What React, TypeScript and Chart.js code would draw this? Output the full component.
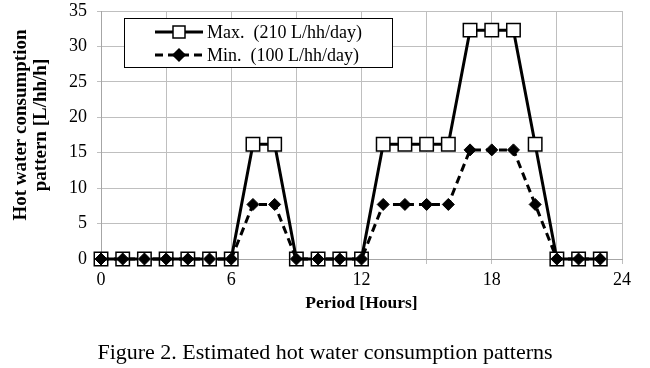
import React, { useEffect, useRef } from "react";
import { Chart, registerables } from "chart.js";

Chart.register(...registerables);

const hours = [0, 1, 2, 3, 4, 5, 6, 7, 8, 9, 10, 11, 12, 13, 14, 15, 16, 17, 18, 19, 20, 21, 22, 23];
const maxValues = [0, 0, 0, 0, 0, 0, 0, 16.2, 16.2, 0, 0, 0, 0, 16.2, 16.2, 16.2, 16.2, 32.3, 32.3, 32.3, 16.2, 0, 0, 0];
const minValues = [0, 0, 0, 0, 0, 0, 0, 7.7, 7.7, 0, 0, 0, 0, 7.7, 7.7, 7.7, 7.7, 15.4, 15.4, 15.4, 7.7, 0, 0, 0];
const seriesLabels = ["Max.  (210 L/hh/day)", "Min.  (100 L/hh/day)"];
const xTitle = "Period [Hours]";
const yTitle = ["Hot water consumption", "pattern [L/hh/h]"];
const caption = "Figure 2. Estimated hot water consumption patterns";

const SERIF = "'Liberation Serif', 'Times New Roman', serif";

const yTitlePlugin = {
  id: "yTitle",
  afterDraw(chart: any) {
    const ctx = chart.ctx;
    ctx.save();
    ctx.fillStyle = "#000";
    ctx.font = `bold 19px ${SERIF}`;
    ctx.textAlign = "center";
    ctx.textBaseline = "middle";
    const xs = [21, 41];
    yTitle.forEach((t, i) => {
      ctx.save();
      ctx.translate(xs[i], 125);
      ctx.rotate(-Math.PI / 2);
      ctx.fillText(t, 0, 0);
      ctx.restore();
    });
    ctx.restore();
  },
};

const legendPlugin = {
  id: "boxLegend",
  afterDatasetsDraw(chart: any) {
    const ctx = chart.ctx;
    const bx = 124, by = 18, bw = 268, bh = 49;
    ctx.save();
    ctx.fillStyle = "#fff";
    ctx.fillRect(bx, by, bw, bh);
    ctx.strokeStyle = "#000";
    ctx.lineWidth = 1;
    ctx.strokeRect(bx + 0.5, by + 0.5, bw, bh);
    const rows = [
      { y: 32, ds: chart.data.datasets[0] },
      { y: 55, ds: chart.data.datasets[1] },
    ];
    rows.forEach((r) => {
      const ds = r.ds;
      ctx.beginPath();
      ctx.setLineDash(ds.borderDash || []);
      ctx.lineWidth = ds.borderWidth;
      ctx.strokeStyle = ds.borderColor;
      ctx.moveTo(155, r.y);
      ctx.lineTo(203, r.y);
      ctx.stroke();
      ctx.setLineDash([]);
      ctx.lineWidth = 1.5;
      ctx.fillStyle = ds.pointBackgroundColor;
      ctx.strokeStyle = ds.pointBorderColor;
      ctx.beginPath();
      if (ds.pointStyle === "rect") {
        const s = 6;
        ctx.rect(179 - s, r.y - s, 2 * s, 2 * s);
      } else {
        const s = 6;
        ctx.moveTo(179 - s, r.y);
        ctx.lineTo(179, r.y - s);
        ctx.lineTo(179 + s, r.y);
        ctx.lineTo(179, r.y + s);
        ctx.closePath();
      }
      ctx.fill();
      ctx.stroke();
      ctx.fillStyle = "#000";
      ctx.font = `18px ${SERIF}`;
      ctx.textBaseline = "middle";
      ctx.textAlign = "left";
      ctx.fillText(ds.label, 207, r.y + 1);
    });
    ctx.restore();
  },
};

export default function App() {
  const ref = useRef<HTMLCanvasElement>(null);
  useEffect(() => {
    const chart = new Chart(ref.current as HTMLCanvasElement, {
      type: "line",
      data: {
        datasets: [
          {
            label: seriesLabels[0],
            data: hours.map((h, i) => ({ x: h, y: maxValues[i] })),
            borderColor: "#000",
            borderWidth: 3,
            pointStyle: "rect",
            pointRadius: 9.5,
            pointBorderWidth: 1.5,
            pointBackgroundColor: "#fff",
            pointBorderColor: "#000",
            clip: false,
            order: 2,
          },
          {
            label: seriesLabels[1],
            data: hours.map((h, i) => ({ x: h, y: minValues[i] })),
            borderColor: "#000",
            borderWidth: 3,
            borderDash: [8, 5],
            pointStyle: "rectRot",
            pointRadius: 6,
            pointBorderWidth: 1,
            pointBackgroundColor: "#000",
            pointBorderColor: "#000",
            clip: false,
            order: 1,
          },
        ] as any,
      },
      options: {
        animation: false,
        responsive: false,
        maintainAspectRatio: false,
        layout: { padding: { top: 0, right: 28, bottom: 49, left: 0 } },
        plugins: { legend: { display: false }, tooltip: { enabled: false } },
        scales: {
          x: {
            type: "linear",
            min: 0,
            max: 24,
            afterFit: (s: any) => { s.height = 60; },
            ticks: {
              stepSize: 3,
              autoSkip: false,
              maxRotation: 0,
              padding: 5,
              color: "#000",
              font: { family: SERIF, size: 18 },
              callback: (v: any) => (v % 6 === 0 ? String(v) : ""),
            },
            grid: { color: "#bfbfbf", lineWidth: 1, tickLength: 5 },
            border: { color: "#a6a6a6" },
            title: {
              display: true,
              text: xTitle,
              color: "#000",
              font: { family: SERIF, size: 17.5, weight: "bold" },
              padding: { top: 0, bottom: 5 },
            },
          },
          y: {
            min: 0,
            max: 35,
            afterFit: (s: any) => { s.width = 101; },
            ticks: {
              stepSize: 5,
              padding: 10,
              autoSkip: false,
              color: "#000",
              font: { family: SERIF, size: 18, lineHeight: 0.01 },
            },
            grid: { color: "#bfbfbf", lineWidth: 1, tickLength: 4 },
            border: { color: "#a6a6a6" },
            title: { display: false },
          },
        },
      } as any,
      plugins: [legendPlugin, yTitlePlugin],
    });
    return () => chart.destroy();
  }, []);
  return (
    <div style={{ position: "absolute", left: 0, top: 0, width: 650, height: 368, background: "#fff" }}>
      <canvas ref={ref} width={650} height={368} style={{ display: "block" }} />
      <div
        style={{
          position: "absolute",
          left: 0,
          top: 339,
          width: 650,
          textAlign: "center",
          fontFamily: SERIF,
          fontSize: 22,
          color: "#000",
          lineHeight: "26px",
        }}
      >
        {caption}
      </div>
    </div>
  );
}
